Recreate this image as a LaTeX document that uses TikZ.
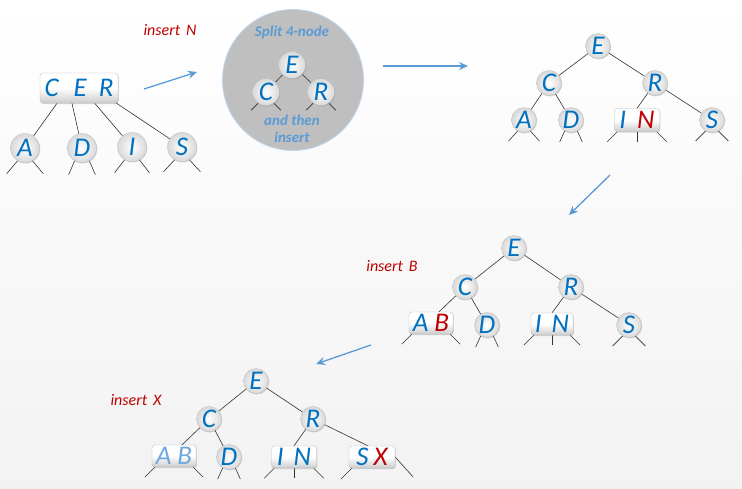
\documentclass[tikz,border=0pt]{standalone}
\usepackage{fontspec}
\setmainfont{Carlito}
\usetikzlibrary{shadows,arrows.meta,calc}
\definecolor{nblue}{HTML}{0070C0}
\definecolor{nred}{HTML}{C00000}
\definecolor{ablue}{HTML}{5B9BD5}
\definecolor{fblue}{HTML}{6FA8DC}
\definecolor{rimblue}{HTML}{BDD7EE}
\pgfdeclarelayer{bg}\pgfdeclarelayer{edges}
\pgfsetlayers{bg,edges,main}
\tikzset{
  ball/.style={circle, minimum size=25pt, inner sep=0pt, shading=radial,
    inner color=white, outer color=gray!30, draw=gray!55, line width=0.3pt,
    drop shadow={shadow xshift=0.8pt, shadow yshift=-1pt, opacity=0.3},
    font=\fontsize{27}{27}\selectfont\itshape, text=nblue},
  bigball/.style={ball, minimum size=29pt},
  keybox/.style={rectangle, rounded corners=3pt, minimum height=23pt, inner sep=1pt,
    top color=white, bottom color=gray!40, middle color=white, draw=gray!55, line width=0.3pt,
    drop shadow={shadow xshift=0.8pt, shadow yshift=-1pt, opacity=0.3},
    font=\fontsize{27}{27}\selectfont\itshape, text=nblue},
  tedge/.style={line width=0.6pt, draw=black!80},
  arr/.style={-{Stealth[length=9pt,width=8pt]}, line width=1.3pt, draw=ablue},
  lbl/.style={font=\fontsize{16}{16}\selectfont\itshape, text=nred},
  splitlbl/.style={font=\fontsize{15}{15}\selectfont\bfseries\itshape, text=ablue}
}
\newcommand\cstubs[3]{%
  \draw[tedge] (#1.240) -- ++(-#2,#3);
  \draw[tedge] (#1.300) -- ++(#2,#3);}
\newcommand\rstubs[1]{%
  \draw[tedge] ([xshift=3pt]#1.south west) -- ++(-10,10);
  \draw[tedge] ([xshift=-3pt]#1.south east) -- ++(10,10);}
\newcommand\mstub[1]{\draw[tedge] (#1.south) -- ++(0,10);}
\begin{document}
\begin{tikzpicture}[x=1pt,y=-1pt]
\begin{pgfonlayer}{bg}
\fill[top color=white, bottom color=gray!10] (0,0) rectangle (742,488);
\end{pgfonlayer}
\useasboundingbox (0,0) rectangle (742,488);

% ---------- tree 1 ----------
\node[keybox, minimum width=78pt, minimum height=30pt] (cer) at (79,88)
  {C\hspace{15pt}E\hspace{12pt}R};
\node[bigball] (a1) at (25,148) {A};
\node[bigball] (d1) at (82,148) {D};
\node[bigball] (i1) at (132,147) {I};
\node[bigball] (s1) at (182,147) {S};
\node[lbl] (ins1) at (170,30) {insert\hspace{6pt}N};
\coordinate (a1s) at (144,89);
\coordinate (a1e) at (197,72);

% ---------- split circle ----------
\begin{pgfonlayer}{bg}
\node[circle, minimum size=141pt, fill=gray!50, draw=rimblue, line width=0.8pt] (split) at (293,80) {};
\end{pgfonlayer}
\node[splitlbl] (splt) at (292,32) {Split 4-node};
\node[ball, minimum size=27pt] (sE) at (292,65) {E};
\node[ball, minimum size=27pt] (sC) at (266,92) {C};
\node[ball, minimum size=27pt] (sR) at (321,92) {R};
\node[splitlbl] (sthen) at (292,120) {and then};
\node[splitlbl] (sins) at (292,137) {insert};
\coordinate (a2s) at (383,66);
\coordinate (a2e) at (468,66);

% ---------- tree 2 ----------
\node[ball] (e2) at (598,46) {E};
\node[ball] (c2) at (549,83) {C};
\node[ball] (r2) at (655,83) {R};
\node[ball] (aa2) at (524,120) {A};
\node[ball] (d2) at (571,120) {D};
\node[keybox, minimum width=45pt] (in2) at (637,120) {I\hspace{11pt}\textcolor{nred}{N}};
\node[ball] (s2) at (712,120) {S};
\coordinate (a3s) at (610,175);
\coordinate (a3e) at (569,215);

% ---------- tree 3 ----------
\node[lbl] (ins2) at (392,266) {insert\hspace{6pt}B};
\node[ball] (e3) at (514,248) {E};
\node[ball] (c3) at (465,287) {C};
\node[ball] (r3) at (571,287) {R};
\node[keybox, minimum width=44pt, minimum height=22pt] (ab3) at (431,323) {A\hspace{6pt}\textcolor{nred}{B}};
\node[ball] (d3) at (487,325) {D};
\node[keybox, minimum width=42pt, minimum height=22pt] (in3) at (552,324) {I\hspace{10pt}N};
\node[ball] (s3) at (629,325) {S};
\coordinate (a4s) at (371,345);
\coordinate (a4e) at (316,364);

% ---------- tree 4 ----------
\node[lbl] (ins3) at (136,400) {insert\hspace{6pt}X};
\node[ball] (e4) at (256,381) {E};
\node[ball] (c4) at (209,419) {C};
\node[ball] (r4) at (313,419) {R};
\node[keybox, minimum width=44pt, minimum height=22pt, text=fblue] (ab4) at (174,456) {A\hspace{6pt}B};
\node[ball] (d4) at (229,457) {D};
\node[keybox, minimum width=45pt, minimum height=22pt] (in4) at (294,457) {I\hspace{10pt}N};
\node[keybox, minimum width=46pt, minimum height=22pt] (sx4) at (372,457) {S\hspace{5pt}\textcolor{nred}{X}};

\begin{pgfonlayer}{edges}
% tree 1
\draw[tedge] ($(cer.south west)!0.22!(cer.south east)$) -- (a1);
\draw[tedge] ($(cer.south west)!0.41!(cer.south east)$) -- (d1);
\draw[tedge] ($(cer.south west)!0.70!(cer.south east)$) -- (i1);
\draw[tedge] ([yshift=2pt]$(cer.south west)!0.94!(cer.south east)$) -- (s1);
\cstubs{a1}{11}{13}\cstubs{d1}{6}{14}\cstubs{i1}{10}{13}\cstubs{s1}{11}{12}
% split
\draw[tedge] (sE) -- (sC);
\draw[tedge] (sE) -- (sR);
\draw[tedge] (sC.235) -- ++(-7,7);
\draw[tedge] (sC.305) -- ++(7,7);
\draw[tedge] (sR.235) -- ++(-7,7);
\draw[tedge] (sR.305) -- ++(7,7);
% tree 2
\draw[tedge] (e2) -- (c2);
\draw[tedge] (e2) -- (r2);
\draw[tedge] (c2) -- (aa2);
\draw[tedge] (c2) -- (d2);
\draw[tedge] (r2) -- (in2.north);
\draw[tedge] (r2) -- (s2);
\cstubs{aa2}{9}{10}\cstubs{d2}{5}{11}\cstubs{s2}{10}{10}
\rstubs{in2}\mstub{in2}
% tree 3
\draw[tedge] (e3) -- (c3);
\draw[tedge] (e3) -- (r3);
\draw[tedge] (c3) -- ([xshift=8pt]ab3.north);
\draw[tedge] (c3) -- (d3);
\draw[tedge] (r3) -- (in3.north);
\draw[tedge] (r3) -- (s3);
\cstubs{d3}{5}{11}\cstubs{s3}{10}{10}
\rstubs{ab3}\rstubs{in3}\mstub{in3}
% tree 4
\draw[tedge] (e4) -- (c4);
\draw[tedge] (e4) -- (r4);
\draw[tedge] (c4) -- ([xshift=8pt]ab4.north);
\draw[tedge] (c4) -- (d4);
\draw[tedge] (r4) -- (in4.north);
\draw[tedge] (r4) -- ([xshift=-4pt]sx4.north);
\cstubs{d4}{5}{11}
\rstubs{ab4}\rstubs{in4}\mstub{in4}
\draw[tedge] ([xshift=3pt]sx4.south west) -- ++(-11,11);
\draw[tedge] (sx4.east) -- ++(18,20);
\end{pgfonlayer}

% arrows
\draw[arr] (a1s) -- (a1e);
\draw[arr] (a2s) -- (a2e);
\draw[arr] (a3s) -- (a3e);
\draw[arr] (a4s) -- (a4e);
\end{tikzpicture}
\end{document}
